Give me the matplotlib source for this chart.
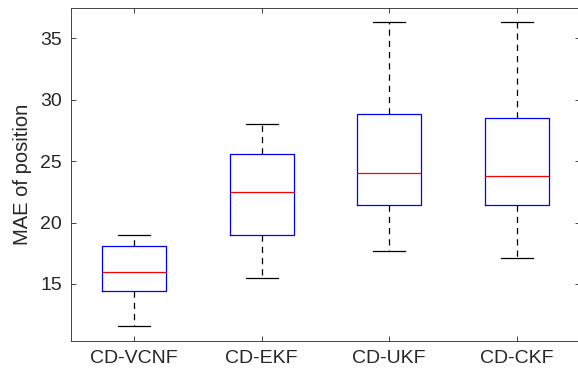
import matplotlib
matplotlib.use("Agg")
import matplotlib.pyplot as plt

# box statistics (MAE of position)
methods = ["CD-VCNF", "CD-EKF", "CD-UKF", "CD-CKF"]
whisker_low = [11.6, 15.5, 17.7, 17.1]
q1 = [14.4, 19.0, 21.4, 21.4]
medians = [16.0, 22.5, 24.0, 23.8]
q3 = [18.1, 25.6, 28.8, 28.5]
whisker_high = [19.0, 28.0, 36.3, 36.3]
y_ticks = [15, 20, 25, 30, 35]

plt.rcParams["font.family"] = ["Liberation Sans", "DejaVu Sans"]

fig = plt.figure(figsize=(5.78, 3.73), dpi=100)
ax = fig.add_axes([0.1221, 0.0866, 0.882, 0.892])

stats = []
for i, name in enumerate(methods):
    stats.append({
        "label": name,
        "whislo": whisker_low[i],
        "q1": q1[i],
        "med": medians[i],
        "q3": q3[i],
        "whishi": whisker_high[i],
        "fliers": [],
    })

ax.bxp(
    stats,
    widths=0.5,
    showfliers=False,
    boxprops=dict(color="blue", linewidth=0.9),
    medianprops=dict(color="red", linewidth=0.9),
    whiskerprops=dict(color="black", linestyle=(0, (5, 4)), linewidth=0.9),
    capprops=dict(color="black", linewidth=0.9),
    capwidths=0.25,
)

ax.set_xlim(0.5, 4.5)
ax.set_ylim(10.38, 37.47)
ax.set_yticks(y_ticks)
ax.set_ylabel("MAE of position", fontsize=14.5, color="#262626", labelpad=6)

ax.tick_params(direction="in", length=3.5, width=0.6, colors="#262626",
               labelsize=14, top=True, right=True)
ax.tick_params(axis="y", pad=6)
ax.tick_params(axis="x", pad=7)
for s in ax.spines.values():
    s.set_color("#262626")
    s.set_linewidth(0.6)

fig.savefig("out.png", dpi=100)
